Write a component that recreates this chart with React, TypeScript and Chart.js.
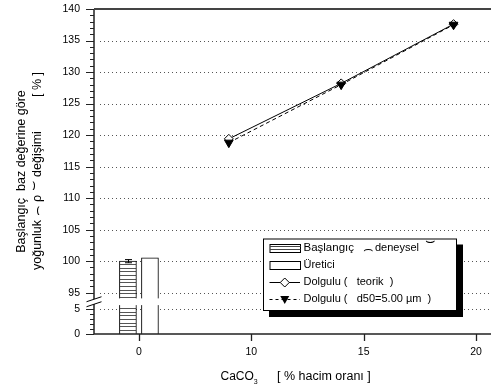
import React, { useEffect, useRef } from 'react';
import { Chart, registerables } from 'chart.js';

Chart.register(...registerables);

const FONT = '"Liberation Sans", Arial, Helvetica, sans-serif';

// ---- data ----
const BAR_LABELS = ['Başlangıç', 'Üretici'];
const BAR_VALUES = [100.0, 100.55];
const BAR_ERRORS = [0.25, 0];
const LINE_X = [9, 14, 19];
const TEORIK_Y = [119.4, 128.2, 137.6];
const D50_Y = [118.8, 128.0, 137.5];
const LINE_LABELS = ['Dolgulu (   teorik  )', 'Dolgulu (   d50=5.00 µm  )'];
const X_TICKS = [0, 10, 15, 20];
const Y_TICKS = [0, 5, 95, 100, 105, 110, 115, 120, 125, 130, 135, 140];

// ---- axis break geometry ----
const ZERO_POS = 5; // axis position of the CaCO3 = 0 group (broken x axis)
const BAR_SHIFT = 0.49;
const X_MIN = 3.0;
const X_MAX = 20.4;
const BREAK_HI = 95;
const LOWER_BASE = 88.45;
const LOWER_K = 0.79;
const GAP_UPPER = 94.1; // upper segment ends here
const GAP_LOWER = 5.8; // lower segment ends here

const xPos = (v: number) => (v <= 0 ? ZERO_POS + v : v);
const yDisp = (v: number) => (v >= BREAK_HI - 2 ? v : LOWER_BASE + v * LOWER_K);

function drawSegments(ctx: CanvasRenderingContext2D, x: number, y: number, segs: [string, number, number][]) {
  let cx = x;
  for (const [t, size, dy] of segs) {
    ctx.font = `${size}px ${FONT}`;
    ctx.fillText(t, cx, y + dy);
    cx += ctx.measureText(t).width;
  }
  return cx - x;
}

const decor = {
  id: 'decor',
  beforeDatasetsDraw(chart: any) {
    const { ctx, chartArea: a, scales } = chart;
    const y = scales.y;
    ctx.save();
    ctx.strokeStyle = '#555';
    ctx.lineWidth = 1;
    ctx.setLineDash([1, 3]);
    Y_TICKS.forEach((v, i) => {
      if (i === 0 || i === Y_TICKS.length - 1) return;
      const py = Math.round(y.getPixelForValue(yDisp(v))) + 0.5;
      ctx.beginPath();
      ctx.moveTo(a.left + 6, py);
      ctx.lineTo(chart.width, py);
      ctx.stroke();
    });
    ctx.restore();
  },
  afterDatasetsDraw(chart: any) {
    const { ctx, chartArea: a, scales } = chart;
    const x = scales.x;
    const y = scales.y;
    const W = chart.width;
    ctx.save();
    ctx.setLineDash([]);
    // break gap
    const gTop = y.getPixelForValue(GAP_UPPER);
    const gBot = y.getPixelForValue(LOWER_BASE + GAP_LOWER * LOWER_K);
    ctx.fillStyle = '#fff';
    ctx.fillRect(a.left + 1, gTop, W - a.left, gBot - gTop);

    // error bars
    ctx.strokeStyle = '#000';
    ctx.lineWidth = 1;
    BAR_VALUES.forEach((v, i) => {
      const e = BAR_ERRORS[i];
      if (!e) return;
      const px = Math.round(x.getPixelForValue(xPos(0) + (i === 0 ? -BAR_SHIFT : BAR_SHIFT))) + 0.5;
      const y1 = y.getPixelForValue(v + e);
      const y2 = y.getPixelForValue(v - e);
      ctx.beginPath();
      ctx.moveTo(px, y1); ctx.lineTo(px, y2);
      ctx.moveTo(px - 3.5, y1); ctx.lineTo(px + 3.5, y1);
      ctx.moveTo(px - 3.5, y2); ctx.lineTo(px + 3.5, y2);
      ctx.stroke();
    });

    // axes
    ctx.strokeStyle = '#222';
    ctx.lineWidth = 1.5;
    ctx.beginPath();
    ctx.moveTo(a.left, a.top); ctx.lineTo(a.left, a.bottom);
    ctx.moveTo(a.left, a.bottom); ctx.lineTo(W, a.bottom);
    ctx.stroke();
    ctx.strokeStyle = '#444';
    ctx.lineWidth = 2;
    ctx.beginPath();
    ctx.moveTo(a.left, a.top); ctx.lineTo(W, a.top);
    ctx.stroke();

    // y ticks
    ctx.strokeStyle = '#222';
    ctx.lineWidth = 1;
    const tick = (v: number, len: number) => {
      const py = Math.round(y.getPixelForValue(yDisp(v))) + 0.5;
      ctx.beginPath(); ctx.moveTo(a.left - len, py); ctx.lineTo(a.left, py); ctx.stroke();
    };
    Y_TICKS.forEach((v) => tick(v, 8));
    for (let v = Y_TICKS[2]; v < Y_TICKS[Y_TICKS.length - 1]; v++) if (v % 5) tick(v, 4);
    for (let v = Y_TICKS[0]; v < Y_TICKS[1]; v++) if (v % 5) tick(v, 4);

    // x ticks
    ctx.lineWidth = 1.3;
    X_TICKS.forEach((v) => {
      const px = Math.round(x.getPixelForValue(xPos(v))) + 0.5;
      ctx.beginPath(); ctx.moveTo(px, a.bottom); ctx.lineTo(px, a.bottom + 7); ctx.stroke();
    });

    // break marks on y axis
    const bc = (gTop + gBot) / 2;
    ctx.fillStyle = '#fff';
    ctx.beginPath();
    ctx.moveTo(a.left - 7.5, bc); ctx.lineTo(a.left + 7.5, bc - 5);
    ctx.lineTo(a.left + 7.5, bc); ctx.lineTo(a.left - 7.5, bc + 5);
    ctx.closePath();
    ctx.fill();
    ctx.strokeStyle = '#000';
    ctx.lineWidth = 1;
    ctx.beginPath();
    ctx.moveTo(a.left - 7.5, bc); ctx.lineTo(a.left + 7.5, bc - 5);
    ctx.moveTo(a.left - 7.5, bc + 5); ctx.lineTo(a.left + 7.5, bc);
    ctx.stroke();

    // legend
    const lx = 263, ly = 238.5, lw = 194, lh = 72.5;
    ctx.fillStyle = '#000';
    ctx.fillRect(lx + 6, ly + 6, lw, lh);
    ctx.fillStyle = '#fff';
    ctx.fillRect(lx, ly, lw, lh);
    ctx.strokeStyle = '#000';
    ctx.lineWidth = 1;
    ctx.strokeRect(lx + 0.5, ly + 0.5, lw - 1, lh - 1);
    const sx = 269.5, sw = 30.5, tx = 303.5;
    const rowY = (i: number) => 247.7 + i * 17.2;
    ctx.textBaseline = 'middle';
    ctx.textAlign = 'left';
    // row 1 hatched
    {
      const cy = rowY(0);
      ctx.strokeStyle = '#000';
      ctx.strokeRect(sx + 0.5, Math.round(cy - 4) + 0.5, sw, 8);
      ctx.strokeStyle = '#444';
      for (const d of [2.7, 5.4]) {
        const py = Math.round(cy - 4 + d) + 0.5;
        ctx.beginPath(); ctx.moveTo(sx + 0.5, py); ctx.lineTo(sx + sw + 0.5, py); ctx.stroke();
      }
      ctx.fillStyle = '#000';
      ctx.font = `11.5px ${FONT}`;
      ctx.fillText(BAR_LABELS[0], tx, cy);
      ctx.font = `16px ${FONT}`;
      ctx.fillText('⌢', 363, cy + 2);
      ctx.font = `11px ${FONT}`;
      ctx.fillText('deneysel', 375, cy);
      ctx.font = `16px ${FONT}`;
      ctx.fillText('⌣', 425, cy - 6);
    }
    // row 2 white
    {
      const cy = rowY(1);
      ctx.strokeStyle = '#000';
      ctx.strokeRect(sx + 0.5, Math.round(cy - 4) + 0.5, sw, 8);
      ctx.fillStyle = '#000';
      ctx.font = `11px ${FONT}`;
      ctx.fillText(BAR_LABELS[1], tx, cy);
    }
    // row 3 line + diamond
    {
      const cy = Math.round(rowY(2)) + 0.5;
      ctx.strokeStyle = '#000';
      ctx.beginPath(); ctx.moveTo(sx, cy); ctx.lineTo(sx + sw, cy); ctx.stroke();
      const mx = sx + sw / 2;
      ctx.fillStyle = '#fff';
      ctx.beginPath();
      ctx.moveTo(mx - 4.5, cy); ctx.lineTo(mx, cy - 4.5); ctx.lineTo(mx + 4.5, cy); ctx.lineTo(mx, cy + 4.5);
      ctx.closePath(); ctx.fill(); ctx.stroke();
      ctx.fillStyle = '#000';
      ctx.font = `11px ${FONT}`;
      ctx.fillText(LINE_LABELS[0], tx, rowY(2));
    }
    // row 4 dashed + triangle
    {
      const cy = Math.round(rowY(3)) + 0.5;
      ctx.strokeStyle = '#000';
      ctx.setLineDash([3, 3]);
      ctx.beginPath(); ctx.moveTo(sx, cy); ctx.lineTo(sx + sw, cy); ctx.stroke();
      ctx.setLineDash([]);
      const mx = sx + sw / 2;
      ctx.fillStyle = '#000';
      ctx.beginPath();
      ctx.moveTo(mx - 4.5, cy - 3.5); ctx.lineTo(mx + 4.5, cy - 3.5); ctx.lineTo(mx, cy + 4.5);
      ctx.closePath(); ctx.fill();
      ctx.font = `11px ${FONT}`;
      ctx.fillText(LINE_LABELS[1], tx, rowY(3));
    }

    // x title
    ctx.fillStyle = '#000';
    ctx.textBaseline = 'alphabetic';
    drawSegments(ctx, 220.5, 379.5, [
      ['CaCO', 12, 0],
      ['3', 7, 4],
    ]);
    ctx.font = `12.5px ${FONT}`;
    ctx.fillText('[ % hacim oranı ]', 277, 379.5);

    // y title
    const cyT = (a.top + a.bottom) / 2;
    ctx.save();
    ctx.translate(25, cyT);
    ctx.rotate(-Math.PI / 2);
    ctx.textAlign = 'center';
    ctx.font = `12.5px ${FONT}`;
    ctx.fillText('Başlangıç  baz değerine göre', 0, 0);
    ctx.restore();
    ctx.save();
    ctx.translate(41, cyT);
    ctx.rotate(-Math.PI / 2);
    ctx.textAlign = 'left';
    drawSegments(ctx, -98.5, 0, [
      ['yoğunluk ', 12.5, 0],
      ['⌢', 16, 1],
      [' ρ ', 12.5, 0],
      ['⌣', 16, -3],
      [' değişimi', 12.5, 0],
    ]);
    ctx.textAlign = 'right';
    ctx.font = `12.5px ${FONT}`;
    ctx.fillText('[ % ]', 99.5, 0);
    ctx.restore();

    ctx.restore();
  },
};

export default function App() {
  const ref = useRef<HTMLCanvasElement>(null);
  useEffect(() => {
    const canvas = ref.current!;
    const pc = document.createElement('canvas');
    pc.width = 4;
    pc.height = 11;
    const p = pc.getContext('2d')!;
    p.fillStyle = '#fff';
    p.fillRect(0, 0, 4, 11);
    p.fillStyle = '#555';
    [0, 4, 7].forEach((r) => p.fillRect(0, r, 4, 1));
    const hatch = canvas.getContext('2d')!.createPattern(pc, 'repeat')!;

    const chart = new Chart(canvas, {
      type: 'line',
      data: {
        datasets: [
          {
            type: 'bar',
            label: BAR_LABELS[0],
            data: [{ x: xPos(0) - BAR_SHIFT, y: BAR_VALUES[0] }],
            backgroundColor: hatch,
            borderColor: '#000',
            borderWidth: 1,
            borderSkipped: false,
            barThickness: 17,
            grouped: false,
            order: 4,
          } as any,
          {
            type: 'bar',
            label: BAR_LABELS[1],
            data: [{ x: xPos(0) + BAR_SHIFT, y: BAR_VALUES[1] }],
            backgroundColor: '#fff',
            borderColor: '#000',
            borderWidth: 1,
            borderSkipped: false,
            barThickness: 17,
            grouped: false,
            order: 3,
          } as any,
          {
            type: 'line',
            label: LINE_LABELS[0],
            data: LINE_X.map((v, i) => ({ x: v, y: TEORIK_Y[i] })),
            borderColor: '#000',
            borderWidth: 1,
            pointStyle: 'rectRot',
            pointRadius: 4.5,
            pointBackgroundColor: '#fff',
            pointBorderColor: '#000',
            pointBorderWidth: 1,
            order: 2,
          } as any,
          {
            type: 'line',
            label: LINE_LABELS[1],
            data: LINE_X.map((v, i) => ({ x: v, y: D50_Y[i] })),
            borderColor: '#000',
            borderWidth: 1,
            borderDash: [4, 3],
            pointStyle: 'triangle',
            rotation: 180,
            pointRadius: 5,
            pointBackgroundColor: '#000',
            pointBorderColor: '#000',
            pointBorderWidth: 1,
            order: 1,
          } as any,
        ],
      },
      options: {
        animation: false,
        responsive: false,
        maintainAspectRatio: false,
        layout: { padding: { top: 9, left: 0, right: 0, bottom: 0 } },
        plugins: { legend: { display: false }, tooltip: { enabled: false } },
        scales: {
          x: {
            type: 'linear',
            offset: false,
            min: X_MIN,
            max: X_MAX,
            grid: { display: false, drawTicks: false, offset: false },
            border: { display: false },
            afterBuildTicks: (s: any) => {
              s.ticks = X_TICKS.map((v) => ({ value: xPos(v) }));
            },
            afterFit: (s: any) => {
              s.height = 53;
              s.paddingLeft = 0;
              s.paddingRight = 0;
            },
            ticks: {
              autoSkip: false,
              maxRotation: 0,
              padding: 12,
              color: '#000',
              font: { family: FONT, size: 10.5 },
              callback: (_v: any, i: number) => String(X_TICKS[i]),
            },
          },
          y: {
            type: 'linear',
            min: yDisp(0),
            max: Y_TICKS[Y_TICKS.length - 1],
            grid: { display: false, drawTicks: false },
            border: { display: false },
            afterBuildTicks: (s: any) => {
              s.ticks = Y_TICKS.map((v) => ({ value: yDisp(v) }));
            },
            afterFit: (s: any) => {
              s.width = 94;
              s.paddingTop = 0;
              s.paddingBottom = 0;
            },
            ticks: {
              autoSkip: false,
              padding: 14,
              color: '#000',
              font: { family: FONT, size: 10.5 },
              callback: (_v: any, i: number) => String(Y_TICKS[i]),
            },
          },
        },
      } as any,
      plugins: [decor],
    });
    return () => chart.destroy();
  }, []);
  return (
    <div style={{ position: 'absolute', left: 0, top: 0, width: 491, height: 387, background: '#fff' }}>
      <canvas ref={ref} width={491} height={387} style={{ display: 'block' }} />
    </div>
  );
}
